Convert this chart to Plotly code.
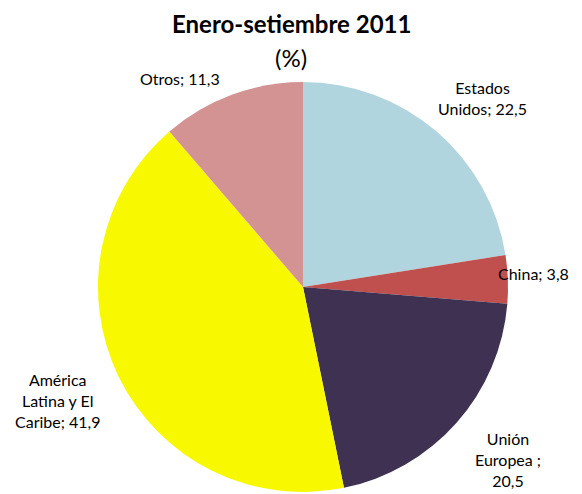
import plotly.graph_objects as go

regiones = ["Estados Unidos", "China", "Unión Europea", "América Latina y El Caribe", "Otros"]
participacion = [22.5, 3.8, 20.5, 41.9, 11.3]
colores = ["#B1D5DE", "#C0504D", "#3E3152", "#F8F800", "#D49393"]

# etiquetas con saltos de línea como en el original
etiquetas = ["Estados<br>Unidos; 22,5", "China; 3,8", "Unión<br>Europea ;<br>20,5",
             "América<br>Latina y El<br>Caribe; 41,9", "Otros; 11,3"]
pos_etiquetas = [(482, 98), (571, 273), (508, 459), (57, 400), (180, 78)]
anclas = ["center", "right", "center", "center", "center"]

# la página deja 8px de margen en el body
OFF = 8
W, H = 582 - OFF, 494 - OFF


def px(x):
    return (x - OFF) / W


def py(y):
    return 1 - (y - OFF) / H


fig = go.Figure()
fig.add_trace(go.Pie(
    labels=regiones, values=participacion,
    marker=dict(colors=colores, line=dict(width=0)),
    sort=False, direction="clockwise", rotation=0,
    textinfo="none", hoverinfo="label+value",
    domain=dict(x=[px(94), px(512)], y=[py(492), py(82)]),
    showlegend=False,
))

for txt, (x, y), a in zip(etiquetas, pos_etiquetas, anclas):
    fig.add_annotation(
        x=px(x), y=py(y), xref="paper", yref="paper",
        xanchor=a, yanchor="middle",
        text=txt, showarrow=False, align="center",
        font=dict(family="Lato, Carlito, sans-serif", size=16, color="#000000"),
    )

fig.add_annotation(x=px(291), y=py(24), xref="paper", yref="paper",
                   xanchor="center", yanchor="middle",
                   text="<b>Enero-setiembre 2011</b>", showarrow=False,
                   font=dict(family="Lato, sans-serif", size=24, color="#000000"))
fig.add_annotation(x=px(291), y=py(57), xref="paper", yref="paper",
                   xanchor="center", yanchor="middle",
                   text="(%)", showarrow=False,
                   font=dict(family="Lato, sans-serif", size=24, color="#000000"))

fig.update_layout(
    width=W, height=H,
    margin=dict(l=0, r=0, t=0, b=0),
    paper_bgcolor="white", plot_bgcolor="white",
)

fig.write_html("out.html")
